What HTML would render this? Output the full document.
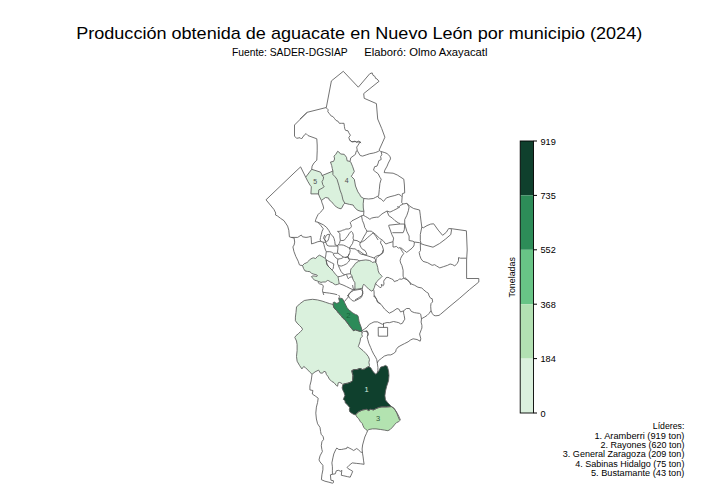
<!DOCTYPE html>
<html><head><meta charset="utf-8"><style>
html,body{margin:0;padding:0;background:#fff;}
body{width:720px;height:504px;overflow:hidden;}
svg{display:block;font-family:"Liberation Sans",sans-serif;}
</style></head><body>
<svg width="720" height="504" viewBox="0 0 720 504">
<rect width="720" height="504" fill="#fff"/>
<text x="76.2" y="38.7" font-size="16.4" textLength="566" lengthAdjust="spacingAndGlyphs" fill="#000">Producción obtenida de aguacate en Nuevo León por municipio (2024)</text>
<text x="231.9" y="55.6" font-size="10.3" textLength="115.8" lengthAdjust="spacingAndGlyphs" fill="#000">Fuente: SADER-DGSIAP</text>
<text x="364.3" y="55.6" font-size="10.3" textLength="123.2" lengthAdjust="spacingAndGlyphs" fill="#000">Elaboró: Olmo Axayacatl</text>
<g fill="none" stroke="#5a5a5a" stroke-width="0.85" stroke-linejoin="round">
<polygon points="311.7,169.3 320.4,172.1 321.6,174.0 322.0,175.6 323.6,176.8 323.2,179.6 322.0,181.6 322.8,184.8 324.2,186.7 322.0,188.3 318.8,189.9 318.4,193.9 310.9,193.9 311.3,186.7 310.1,185.2 307.7,181.2 305.7,177.2" fill="#daf1dd" stroke="none"/>
<polygon points="337.6,151.3 338.8,151.9 340.6,154.0 344.2,154.3 346.5,157.3 347.1,160.8 350.1,161.4 350.7,162.0 352.5,166.2 354.3,171.5 352.5,174.5 351.3,176.3 354.3,179.3 355.5,186.0 357.9,191.9 359.6,194.3 360.8,196.7 363.8,198.5 363.2,203.8 363.3,208.0 363.9,211.3 360.9,211.3 358.0,210.4 355.6,208.6 353.8,206.2 353.1,205.0 349.5,204.4 344.8,203.2 343.0,200.0 341.8,194.8 340.0,190.0 338.8,185.2 337.0,179.3 335.2,176.9 332.9,174.5 332.9,171.0 332.3,168.6 331.7,165.6 330.5,162.0 333.5,161.4 334.6,159.0 334.0,156.1 335.8,154.3" fill="#daf1dd" stroke="none"/>
<polygon points="322.0,175.6 330.5,172.1 332.9,171.0 332.9,174.5 335.2,176.9 337.0,179.3 338.8,185.2 340.0,190.0 341.8,194.8 343.0,200.0 344.8,203.2 343.5,204.6 342.3,207.0 341.1,208.8 338.7,208.2 336.3,207.0 333.9,204.6 331.5,201.7 329.2,199.9 328.6,198.1 325.6,197.5 323.8,198.7 321.4,200.5 319.6,196.9 318.4,193.9 318.8,189.9 322.0,188.3 324.2,186.7 322.8,184.8 322.0,181.6 323.2,179.6 323.6,176.8" fill="#daf1dd" stroke="none"/>
<polygon points="358.9,260.9 361.9,260.4 365.8,259.9 369.3,260.4 371.3,261.4 372.3,262.4 374.8,261.9 375.8,262.4 376.7,263.9 377.7,267.4 378.2,270.8 379.2,273.3 381.2,275.3 382.2,276.3 380.7,277.8 378.7,279.8 376.7,281.7 375.3,284.2 374.3,287.7 373.3,289.7 371.8,291.2 368.8,289.2 366.3,286.7 363.8,284.2 362.9,285.7 362.4,288.2 359.9,288.7 356.9,289.2 354.9,289.2 354.9,285.7 354.9,282.7 353.4,280.3 352.4,277.8 351.9,275.8 350.5,273.8 350.5,270.8 351.0,268.8 352.4,267.4 354.4,264.9 355.4,263.4 356.9,262.4 358.4,261.4" fill="#daf1dd" stroke="none"/>
<polygon points="302.5,265.5 304.5,263.5 306.4,263.0 307.4,262.0 309.5,260.0 311.0,258.8 313.2,257.8 315.6,258.5 317.5,256.4 319.5,255.2 321.9,256.4 324.7,258.0 325.3,258.2 326.1,259.8 326.5,262.1 326.9,264.1 328.1,266.1 329.7,267.7 331.7,269.7 333.3,271.3 334.4,272.9 336.0,274.8 338.0,276.8 338.4,278.8 338.8,281.2 339.2,283.6 337.6,284.4 335.6,284.8 334.0,284.0 332.5,282.8 330.5,282.0 328.9,280.8 327.7,280.4 325.3,282.0 322.9,282.0 321.0,282.4 318.8,281.6 316.9,280.8 314.4,280.1 312.9,278.4 311.4,276.6 312.9,275.9 314.9,276.1 316.9,276.4 317.4,275.4 315.9,274.6 313.9,274.2 311.7,273.4 309.9,271.7 307.4,271.4 305.0,270.9 303.5,268.4" fill="#daf1dd" stroke="none"/>
<polygon points="326.1,259.8 329.1,261.5 331.5,262.7 333.8,263.9 333.5,266.3 333.2,268.7 332.3,269.5 331.7,269.7 329.7,267.7 328.1,266.1 326.9,264.1 326.5,262.1" fill="#fff" stroke="none"/>
<polygon points="296.5,307.0 299.5,304.0 304.3,300.5 307.9,299.9 312.6,299.3 317.4,299.9 322.1,301.1 325.7,302.3 329.3,303.5 333.2,304.5 333.6,307.0 334.8,308.9 336.7,310.5 337.5,311.7 338.7,313.3 341.1,315.6 342.7,318.0 344.7,319.6 346.7,322.0 349.0,325.2 351.4,328.3 353.4,330.7 355.4,329.9 357.8,330.7 360.6,331.5 361.3,331.9 362.4,332.1 361.8,334.5 362.4,336.3 360.6,338.1 360.0,341.7 358.8,345.2 358.2,346.4 360.0,348.2 363.0,350.6 366.0,353.6 368.3,356.5 369.5,359.5 368.9,362.5 369.5,365.5 368.9,366.5 366.5,367.7 364.8,368.9 362.4,369.5 360.0,368.3 357.0,369.5 354.0,369.5 351.7,370.7 352.9,375.5 352.5,380.8 350.9,382.0 347.7,383.2 345.3,383.6 342.9,384.4 342.1,383.6 339.8,382.4 338.2,382.8 337.6,386.2 336.4,385.6 334.0,382.6 331.7,381.4 329.3,379.0 328.1,376.7 326.3,374.3 325.7,371.9 323.9,371.3 322.7,373.1 320.4,373.1 318.6,370.1 315.0,371.9 312.0,374.3 310.2,372.5 307.9,370.1 305.5,367.7 303.7,366.5 301.9,368.9 299.5,365.4 297.1,361.2 296.5,356.4 297.1,350.5 297.1,344.5 296.5,341.0 294.8,337.4 296.0,335.6 298.3,333.8 300.7,331.4 302.5,329.6 301.9,327.9 299.5,325.5 297.1,323.1 295.4,320.7 295.4,317.1 296.0,312.4" fill="#daf1dd" stroke="none"/>
<polygon points="333.2,302.5 334.4,302.1 336.3,303.3 338.3,302.9 339.5,301.3 338.7,298.6 340.3,298.2 342.3,298.6 343.9,301.0 344.7,302.9 345.9,305.3 347.1,307.7 349.0,310.1 351.4,311.7 352.6,312.9 355.4,314.4 357.4,315.2 358.2,316.4 358.6,318.8 359.0,321.2 359.8,323.6 361.0,326.7 361.7,329.1 362.1,330.7 361.3,331.9 360.6,331.5 357.8,330.7 355.4,329.9 353.4,330.7 351.4,328.3 349.0,325.2 346.7,322.0 344.7,319.6 342.7,318.0 341.1,315.6 338.7,313.3 337.5,311.7 336.7,310.5 334.8,308.9 333.6,307.0 333.2,304.5" fill="#2c8b59" stroke="none"/>
<polygon points="351.7,370.7 354.0,369.5 357.0,369.5 360.0,368.3 362.4,369.5 364.8,368.9 366.5,367.7 368.9,366.5 370.7,367.7 372.5,370.7 374.3,373.1 376.0,374.3 377.1,373.1 378.9,370.7 380.7,367.1 383.1,366.5 385.5,365.4 387.3,366.5 388.5,370.7 389.0,375.5 388.5,380.8 386.7,386.2 385.5,391.0 384.9,395.7 385.5,399.9 387.9,402.9 390.2,405.2 391.4,406.6 386.7,406.9 381.9,406.9 378.9,407.5 376.0,408.7 373.6,409.9 370.6,409.3 368.8,410.5 366.4,409.3 362.9,409.9 361.2,410.6 358.8,411.7 356.8,413.3 355.6,414.9 354.0,414.5 351.7,413.3 349.7,411.7 349.3,409.4 349.7,407.4 348.5,406.2 346.9,404.2 345.3,403.0 344.9,400.6 343.3,399.4 343.7,398.3 344.9,395.5 344.1,392.7 342.9,390.3 342.1,387.9 342.9,384.4 345.3,383.6 347.7,383.2 350.9,382.0 352.5,380.8 352.9,375.5" fill="#0f402d" stroke="none"/>
<polygon points="355.6,414.9 356.8,413.3 358.8,411.7 361.2,410.6 362.9,409.9 366.4,409.3 368.8,410.5 370.6,409.3 373.6,409.9 376.0,408.7 378.9,407.5 381.9,406.9 386.7,406.9 391.4,406.6 393.8,408.1 395.0,409.9 396.8,412.9 398.0,416.4 399.8,420.6 398.6,421.8 396.8,422.4 395.0,424.2 392.6,427.1 390.2,429.5 387.9,430.7 384.3,430.1 380.7,429.5 376.0,428.9 372.4,428.9 368.8,429.5 367.6,430.7 365.8,429.5 364.0,427.7 362.9,425.4 362.3,423.6 360.5,421.8 358.7,418.8 356.9,417.0 356.3,415.8" fill="#b3e3b0" stroke="none"/>
<polyline points="300.0,119.0 307.2,112.3 326.3,107.5 331.4,80.9 343.3,71.3 358.3,87.2 369.8,73.7 372.2,72.9 373.0,75.3 374.9,76.4 375.7,78.5 376.9,78.8 379.0,81.3 363.7,93.6 364.2,98.3 376.4,103.6 377.7,119.0 381.7,128.5 384.9,137.2 381.4,145.0 379.0,150.3"/>
<polyline points="307.2,112.3 294.5,125.0 294.5,136.1 296.6,138.3 300.1,137.7 301.4,139.0 304.5,134.8 306.1,133.6 308.0,135.6 316.8,138.8 317.2,145.0 317.2,150.9 316.8,160.2 314.0,162.9 312.1,166.1 311.7,169.3 305.7,177.2 300.6,166.9 295.0,172.1 266.0,199.8 273.9,209.4 275.7,213.0 275.5,215.0"/>
<polyline points="326.3,107.5 326.2,107.8 328.2,109.8 327.8,111.7 329.4,113.7 331.3,116.1 332.9,116.5 334.5,118.5 336.1,120.5 338.1,121.3 339.3,123.3 341.7,123.3 344.0,123.3 344.4,126.4 344.8,128.8 345.6,130.4 348.0,130.8 348.8,132.8 350.4,135.2 348.8,137.5 349.6,139.9 351.2,141.5 352.8,141.9 355.2,141.5 356.7,142.3 358.3,141.1 360.3,142.3 361.1,143.1"/>
<polyline points="337.6,151.3 335.8,154.3 334.0,156.1 334.6,159.0 333.5,161.4 330.5,162.0 331.7,165.6 332.3,168.6 332.9,171.0 332.9,174.5 335.2,176.9 337.0,179.3 338.8,185.2 340.0,190.0 341.8,194.8 343.0,200.0 344.8,203.2"/>
<polyline points="337.6,151.3 338.8,151.9 340.6,154.0 344.2,154.3 346.5,157.3 347.1,160.8 350.1,161.4 350.7,162.0 352.5,166.2 354.3,171.5 352.5,174.5 351.3,176.3 354.3,179.3 355.5,186.0 357.9,191.9 359.6,194.3 360.8,196.7 363.8,198.5 363.2,203.8 363.3,208.0 363.9,211.3 363.6,215.4"/>
<polyline points="344.8,203.2 349.5,204.4 353.1,205.0 353.8,206.2 355.6,208.6 358.0,210.4 360.9,211.3 363.9,211.3"/>
<polyline points="311.7,169.3 320.4,172.1 321.6,174.0 322.0,175.6 323.6,176.8 323.2,179.6 322.0,181.6 322.8,184.8 324.2,186.7 322.0,188.3 318.8,189.9 318.4,193.9"/>
<polyline points="305.7,177.2 307.7,181.2 310.1,185.2 311.3,186.7 310.9,193.9"/>
<polyline points="322.0,175.6 330.5,172.1 332.9,171.0"/>
<polyline points="350.1,161.4 350.7,157.9 355.5,154.3 356.1,151.3 357.3,150.7 356.7,147.1 357.9,145.4 360.0,142.1 361.0,142.5"/>
<polyline points="349.5,140.0 351.9,141.8 354.9,141.2 356.9,142.1 360.2,141.8"/>
<polyline points="357.3,150.7 360.2,155.5 362.6,156.1 366.2,154.9 369.8,153.7 373.3,153.1 375.8,152.4 378.8,151.2"/>
<polyline points="379.0,150.3 380.6,151.4 384.8,152.6 387.1,153.6 390.1,156.5 390.5,158.9 388.3,163.1 387.1,166.1 384.8,170.2 384.2,172.6 393.1,173.2 397.3,175.0 403.8,179.2 404.4,185.0"/>
<polyline points="381.2,151.8 381.8,154.8 380.6,156.5 381.2,159.5 378.8,160.7 378.2,163.1 377.0,166.1 374.6,166.7 373.5,170.2 375.8,172.0 378.2,173.8 380.0,177.4 381.2,179.2 380.6,181.0 379.9,183.6 379.3,189.5 378.7,195.5 377.9,196.1"/>
<polyline points="363.8,198.5 368.6,199.0 373.3,198.5 375.7,197.3 377.9,196.1 378.7,197.9 381.1,199.0 383.5,201.4 386.4,197.9 390.0,196.7 394.8,195.5 398.3,194.3 400.0,194.9"/>
<polyline points="363.6,215.4 361.5,215.8 358.0,217.8 355.0,219.3 352.0,220.8 350.2,222.7 351.0,224.7 351.4,226.7 350.2,228.3 348.3,229.0 345.9,229.0 344.3,229.8 342.7,230.2 341.1,231.0 339.1,231.4 337.5,231.4"/>
<polyline points="361.5,215.8 362.4,220.5 363.9,224.0 364.8,227.6 366.0,229.4 366.9,231.2 369.3,231.2 371.6,231.2 373.4,233.0 374.6,234.8 375.7,236.0 378.1,240.0"/>
<polyline points="363.6,215.4 365.7,216.6 367.8,217.8 369.9,219.3 371.6,218.1 374.0,217.5 376.4,217.2 378.2,217.2 380.0,215.7 382.0,213.9 384.0,212.7 387.0,211.0 390.0,212.1 393.6,210.4 397.1,208.6 400.0,206.8"/>
<polyline points="387.0,211.0 388.8,215.7 392.4,218.1 394.8,220.5 398.3,222.9 400.0,223.5"/>
<polyline points="275.5,215.0 277.5,216.0 280.5,218.3 284.0,220.7 287.6,226.1 288.8,230.2 289.4,236.8 291.2,237.4 294.1,238.0 294.7,242.1 294.1,245.0"/>
<polyline points="291.2,237.4 297.7,237.4 301.3,235.0 302.5,236.8 306.0,237.4 308.2,237.1 311.0,236.3"/>
<polyline points="310.9,193.9 318.5,193.9"/>
<polyline points="318.4,193.9 319.6,196.9 321.4,200.5 323.8,198.7 325.6,197.5 328.6,198.1 329.2,199.9 331.5,201.7 333.9,204.6 336.3,207.0 338.7,208.2 341.1,208.8 342.3,207.0 343.5,204.6 344.8,203.2"/>
<polyline points="321.4,200.5 322.0,202.9 322.9,205.0 323.7,208.2 322.1,210.6 319.7,212.9 318.1,214.5 316.9,216.9 315.7,219.7 315.3,221.7 317.7,222.1 320.9,225.6 323.3,228.8 322.1,231.2 321.3,234.4 320.5,237.5 320.1,239.9 320.9,241.5"/>
<polyline points="317.7,222.1 323.3,224.8 326.4,227.2 328.8,230.4 330.0,232.8 331.2,234.8 332.8,236.0 334.0,238.3 334.8,241.5 335.2,245.0 337.9,245.6"/>
<polyline points="324.8,238.3 326.4,235.2 328.0,234.4 329.6,234.4 328.8,238.3 328.0,240.7 326.4,241.5 324.8,239.9 324.8,238.3"/>
<polyline points="404.4,185.0 404.7,192.9 402.4,193.6 401.7,202.5 403.2,204.0 406.9,203.3 409.9,206.3 413.6,208.5 419.6,210.0 420.3,215.2 421.0,221.1 421.8,227.1 423.3,227.8 427.0,225.6 430.7,224.1 433.7,223.8 438.2,230.1 442.6,235.3 446.3,232.3 448.6,228.6 450.8,228.6 466.4,230.8 467.2,250.0"/>
<polyline points="400.0,194.9 401.7,196.5"/>
<polyline points="406.9,203.3 409.1,207.0 408.4,210.7 406.9,215.2 404.7,219.6 404.7,224.1 405.4,226.3 406.9,231.5 409.1,236.0 409.1,240.5 412.9,241.2 414.3,242.0 414.2,244.5 413.8,246.0"/>
<polyline points="397.0,206.8 398.7,207.0 400.2,205.5 403.2,204.0"/>
<polyline points="400.0,224.0 404.7,224.1"/>
<polyline points="404.7,224.1 404.3,229.8 403.1,232.7 392.4,232.7"/>
<polyline points="421.8,227.1 420.3,234.5 420.3,240.5 421.0,243.5"/>
<polyline points="420.3,243.5 424.8,245.0 433.0,247.2 439.6,243.5 445.6,239.0 450.8,234.5 451.5,230.0 450.8,228.6"/>
<polyline points="414.3,242.0 419.6,242.7 421.0,243.5"/>
<polyline points="325.9,242.5 327.1,245.3 329.0,246.1 332.2,246.1 335.4,246.1 337.9,246.0"/>
<polyline points="360.2,242.5 357.0,240.6 353.8,240.2 353.0,238.2 353.4,235.4 352.6,232.6 351.4,231.4 350.2,232.2 349.0,233.8 347.5,236.2 345.5,238.6 344.3,240.2 341.9,240.6 340.3,240.2"/>
<polyline points="340.3,240.2 339.9,237.0 339.9,233.8 338.7,232.2 337.5,231.4"/>
<polyline points="340.3,240.2 339.5,243.3 337.9,244.9"/>
<polyline points="360.2,242.5 359.8,244.9 361.0,247.3 362.5,249.3 364.9,250.4 366.1,252.4 366.9,254.4"/>
<polyline points="353.4,240.2 352.6,243.3 351.0,245.7 349.4,248.0 348.3,247.6 346.3,246.4 343.5,245.2 341.9,244.9 337.9,244.9"/>
<polyline points="349.4,248.0 353.0,248.8 355.0,248.8 356.6,250.0 358.2,251.2 359.4,253.2 361.7,254.4 364.9,254.8 366.9,254.8"/>
<polyline points="349.4,248.0 350.2,250.4 349.8,252.4 348.7,255.2 347.5,256.7 348.3,258.3 349.4,259.9"/>
<polyline points="337.9,246.0 337.9,248.8 337.5,252.0 337.9,253.2 340.3,254.8 341.9,256.0 343.5,257.1 345.9,257.5 347.5,256.7"/>
<polyline points="326.3,251.7 329.8,251.7 331.4,252.1 333.4,253.3 335.8,253.3 337.9,253.2"/>
<polyline points="333.2,254.0 334.4,256.3 336.0,257.9 337.9,259.1 340.3,258.7 341.9,258.3 343.5,257.1"/>
<polyline points="337.9,259.1 337.5,262.0 337.6,263.7 338.4,265.5 341.2,266.1 343.6,265.3 346.7,263.7 348.3,262.1 349.9,259.8"/>
<polyline points="338.4,265.5 339.6,268.5 341.2,271.7 343.2,274.0 344.8,274.8"/>
<polyline points="348.3,258.3 349.8,259.1 353.8,259.5 357.8,259.9 359.4,261.1"/>
<polyline points="366.9,231.2 365.7,233.8 364.1,236.2 362.5,239.4 361.3,241.7 360.2,242.5"/>
<polyline points="375.3,283.7 377.7,285.6 379.7,287.2 380.9,287.6 381.7,286.4 381.3,284.4 383.3,285.6 384.0,284.0 383.7,281.3 384.4,279.7 385.2,279.3 386.0,277.7 388.0,277.3 389.6,278.1 391.6,278.9 393.2,279.7 394.4,281.7 396.0,280.9 397.9,280.5 399.5,278.9 401.5,279.3 403.9,278.1 404.3,278.6"/>
<polyline points="373.7,289.6 374.1,292.0 374.1,296.7 375.7,297.5 376.9,299.9 377.3,301.9 378.9,302.3 380.1,303.9"/>
<polyline points="354.9,289.2 352.9,289.7 351.0,291.7 349.0,293.7 348.0,296.6"/>
<polyline points="362.4,288.2 362.4,289.7 362.9,293.7 361.9,295.6 358.9,297.6 355.0,300.0"/>
<polyline points="345.0,257.4 348.0,256.9 349.0,258.9"/>
<polyline points="348.0,256.9 349.0,254.0"/>
<polyline points="357.9,250.0 364.8,255.0 370.8,256.9 373.8,257.9 375.3,259.4 375.8,262.4"/>
<polyline points="373.8,257.9 376.7,256.0 379.7,255.0 382.2,253.0 383.2,250.0"/>
<polyline points="338.0,276.8 340.4,276.4 342.8,275.6 344.8,274.8 346.0,274.3 349.0,273.8 350.5,273.8"/>
<polyline points="346.5,274.5 347.5,277.2 348.3,278.8 349.9,277.2 351.5,276.8 352.4,277.8"/>
<polyline points="400.0,224.0 388.8,225.2 388.8,226.2 390.6,231.0 391.8,234.5 393.6,238.1 393.0,241.7 388.8,242.9 385.8,244.0 382.9,240.5 379.3,238.1 375.7,234.5 373.3,232.7 369.8,235.7 367.3,237.8 364.9,240.2 362.5,241.7 360.2,242.5"/>
<polyline points="393.0,241.7 393.0,247.0 394.2,247.0 396.5,246.4 398.3,248.2 400.1,247.6 400.7,248.8 402.5,251.8 403.7,253.6 401.9,256.0 400.7,258.3 400.1,260.7 400.7,263.1 401.9,265.5 403.1,270.2 403.1,276.2 404.3,278.6 407.3,279.8 409.6,282.1 411.0,285.0"/>
<polyline points="381.1,240.5 380.5,242.9 382.3,245.8 383.5,250.0 382.9,253.0 380.5,254.8 378.1,256.5 376.3,258.3 375.8,262.4"/>
<polyline points="413.8,246.0 412.0,248.2 409.0,250.6 406.7,252.4 404.3,250.6 400.7,247.6"/>
<polyline points="420.3,243.5 420.5,250.5 419.2,252.4 419.8,255.6 421.1,258.9 423.1,261.4 427.6,262.7 432.1,265.3 434.7,264.7 436.6,266.0 439.8,267.9 443.7,266.6 447.6,265.3 450.1,264.0 452.7,264.7 454.7,266.0 457.2,263.4 458.5,260.8 458.5,257.6 460.5,258.2 463.0,258.2 466.3,258.2"/>
<polyline points="467.2,250.0 466.6,260.0 466.6,278.5 478.8,278.5 478.8,282.0 469.3,289.8 459.8,298.1 449.0,307.0 442.0,313.0 440.6,314.2 439.0,315.4 435.8,315.8 433.8,315.4 432.2,313.4 431.0,310.6 429.1,313.4 427.1,315.4 424.7,317.0 422.3,318.2 421.5,319.0 421.1,322.1 421.9,325.3 421.9,328.0 421.4,329.3 419.6,334.0 420.8,338.8 420.2,341.2 417.0,339.5 413.1,338.8 410.5,340.0 408.1,341.8 404.5,343.6 401.0,345.4 398.0,347.1 396.2,349.5 395.6,351.9 393.2,353.7 390.8,354.9 387.9,354.9 384.3,356.1 381.3,358.5 378.3,360.8 377.3,363.1"/>
<polyline points="405.0,277.6 408.9,281.4 411.4,284.0 414.7,285.3 417.9,287.2 421.8,288.0 423.9,290.0 426.3,292.0 428.3,293.2 429.1,295.9 430.7,298.3 432.2,298.7 432.6,301.9 431.0,303.5 430.7,306.3 431.0,310.6"/>
<polyline points="311.0,236.3 311.3,239.9 311.5,243.9 314.8,242.9 317.9,241.7 320.3,241.3 323.1,242.1 323.9,244.5 324.7,247.7 325.5,250.1 326.3,251.7 325.9,254.8 325.5,257.2 325.1,258.0"/>
<polyline points="323.1,242.1 325.9,242.5 324.7,239.8 323.5,238.2 324.7,235.0"/>
<polyline points="318.6,281.6 318.2,282.8 319.8,284.0 322.1,284.4 323.3,286.0 322.9,288.3 322.5,290.7 322.9,292.3 323.8,295.0"/>
<polyline points="322.9,292.3 326.1,292.7 329.3,293.1 334.0,293.9 337.2,294.7"/>
<polyline points="339.2,283.6 343.0,285.0 346.7,286.7 349.9,288.3 352.9,289.7"/>
<polyline points="294.1,245.0 292.9,246.9 294.0,251.7 295.8,256.4 298.2,261.2 299.4,264.8 300.0,265.2 302.5,265.5"/>
<polyline points="338.7,295.0 339.5,296.6 338.7,298.6"/>
<polyline points="347.5,295.0 348.7,296.6 349.8,298.2 351.4,299.8 353.0,301.0 354.6,301.0 357.0,299.8 359.4,298.6 361.3,297.4 362.1,295.8 362.7,291.5 361.0,289.2 357.4,289.8 353.8,290.4 350.8,292.1 347.9,295.7 348.7,296.6"/>
<polyline points="348.7,296.6 346.5,299.0 344.5,301.5"/>
<polyline points="352.6,285.0 353.2,288.6 355.0,289.8"/>
<polyline points="374.1,296.7 374.6,295.7 376.5,299.5 378.0,302.5 381.0,304.3 384.5,309.0 389.3,313.2 392.9,311.4 397.0,308.5 398.8,309.0 400.6,312.0 403.6,310.8 406.5,308.5 409.5,308.5 411.3,311.4 414.3,312.6 416.8,313.0 419.5,313.4 420.7,314.2 421.5,319.0"/>
<polyline points="362.1,330.7 364.5,329.0 366.9,327.3 369.3,324.3 371.7,323.1 374.0,321.9 377.6,321.9 380.0,323.1 382.4,324.3 384.8,323.1 387.1,322.5 389.3,322.7 393.5,321.5 396.4,322.1 398.8,322.7 400.6,323.9 402.4,323.3 403.6,321.0 404.8,319.2 404.2,315.6 403.6,313.2 403.6,310.8"/>
<polyline points="378.2,327.4 387.6,327.4 387.6,336.2 378.3,336.2 378.2,327.4"/>
<polyline points="383.5,322.9 383.5,327.4"/>
<polyline points="362.1,330.7 363.6,331.5 367.1,331.0 368.3,334.5 367.1,336.9 367.7,339.3 368.9,343.5 370.7,347.6 371.9,350.6 373.7,354.2 375.5,357.1 376.7,359.5 377.3,363.1 377.9,367.3 377.9,370.8 377.1,373.1"/>
<polyline points="367.1,331.0 365.7,331.4 368.1,332.6 367.5,336.2"/>
<polyline points="312.0,374.3 311.7,377.0 311.1,381.0 309.9,385.7 309.9,389.9 312.9,390.5 312.3,394.0 315.8,396.4 318.2,398.2 317.6,402.4 316.4,407.1 315.8,413.1 316.4,419.0 317.6,423.8 320.0,427.4 320.6,431.5 321.2,434.5"/>
<polyline points="321.2,434.5 323.1,436.3 323.7,439.3 321.9,441.7 321.3,445.8 321.9,449.5 322.4,451.4 320.0,455.9 319.0,459.9 320.0,461.9 322.9,465.3 322.9,469.8 321.9,474.8 321.4,479.7 324.9,481.2 328.9,482.2 332.4,483.2 333.4,482.7 333.4,480.7 330.9,480.2 330.4,474.8 332.4,474.3 335.3,473.8 336.3,470.8 338.3,470.3 340.8,471.3 341.8,470.3 341.3,475.3 343.8,475.8 347.7,476.7 350.2,477.2 351.7,473.8 352.7,471.3 350.2,469.8 347.7,468.3 347.2,467.3 349.2,465.3 352.2,462.9 356.7,463.4 360.6,463.8 364.1,464.3 363.6,460.9 363.1,456.9 362.6,453.9 362.1,449.0 362.6,445.0 364.8,437.0 366.5,433.3 367.6,430.7"/>
<polyline points="332.4,474.3 332.4,470.8 332.4,466.8 331.9,462.9 332.9,457.9 333.8,453.9 335.8,449.5 336.8,448.0 338.8,449.5 341.3,449.5 343.8,449.0 346.7,448.5 347.2,447.0 349.2,448.0 351.2,449.0 353.7,450.5 356.7,448.5 358.7,450.0 360.6,451.9 362.3,452.6"/>
<polyline points="391.4,406.6 393.8,408.2 395.6,410.6 397.4,413.6 399.2,417.1 400.4,420.0"/>
<polyline points="358.9,260.9 361.9,260.4 365.8,259.9 369.3,260.4 371.3,261.4 372.3,262.4 374.8,261.9 375.8,262.4 376.7,263.9 377.7,267.4 378.2,270.8 379.2,273.3 381.2,275.3 382.2,276.3 380.7,277.8 378.7,279.8 376.7,281.7 375.3,284.2 374.3,287.7 373.3,289.7 371.8,291.2 368.8,289.2 366.3,286.7 363.8,284.2 362.9,285.7 362.4,288.2 359.9,288.7 356.9,289.2 354.9,289.2 354.9,285.7 354.9,282.7 353.4,280.3 352.4,277.8 351.9,275.8 350.5,273.8 350.5,270.8 351.0,268.8 352.4,267.4 354.4,264.9 355.4,263.4 356.9,262.4 358.4,261.4 358.9,260.9"/>
<polyline points="302.5,265.5 304.5,263.5 306.4,263.0 307.4,262.0 309.5,260.0 311.0,258.8 313.2,257.8 315.6,258.5 317.5,256.4 319.5,255.2 321.9,256.4 324.7,258.0 325.3,258.2 326.1,259.8 326.5,262.1 326.9,264.1 328.1,266.1 329.7,267.7 331.7,269.7 333.3,271.3 334.4,272.9 336.0,274.8 338.0,276.8 338.4,278.8 338.8,281.2 339.2,283.6 337.6,284.4 335.6,284.8 334.0,284.0 332.5,282.8 330.5,282.0 328.9,280.8 327.7,280.4 325.3,282.0 322.9,282.0 321.0,282.4 318.8,281.6 316.9,280.8 314.4,280.1 312.9,278.4 311.4,276.6 312.9,275.9 314.9,276.1 316.9,276.4 317.4,275.4 315.9,274.6 313.9,274.2 311.7,273.4 309.9,271.7 307.4,271.4 305.0,270.9 303.5,268.4 302.5,265.5"/>
<polyline points="326.1,259.8 329.1,261.5 331.5,262.7 333.8,263.9 333.5,266.3 333.2,268.7 332.3,269.5 331.7,269.7 329.7,267.7 328.1,266.1 326.9,264.1 326.5,262.1 326.1,259.8"/>
<polyline points="296.5,307.0 299.5,304.0 304.3,300.5 307.9,299.9 312.6,299.3 317.4,299.9 322.1,301.1 325.7,302.3 329.3,303.5 333.2,304.5 333.6,307.0 334.8,308.9 336.7,310.5 337.5,311.7 338.7,313.3 341.1,315.6 342.7,318.0 344.7,319.6 346.7,322.0 349.0,325.2 351.4,328.3 353.4,330.7 355.4,329.9 357.8,330.7 360.6,331.5 361.3,331.9 362.4,332.1 361.8,334.5 362.4,336.3 360.6,338.1 360.0,341.7 358.8,345.2 358.2,346.4 360.0,348.2 363.0,350.6 366.0,353.6 368.3,356.5 369.5,359.5 368.9,362.5 369.5,365.5 368.9,366.5 366.5,367.7 364.8,368.9 362.4,369.5 360.0,368.3 357.0,369.5 354.0,369.5 351.7,370.7 352.9,375.5 352.5,380.8 350.9,382.0 347.7,383.2 345.3,383.6 342.9,384.4 342.1,383.6 339.8,382.4 338.2,382.8 337.6,386.2 336.4,385.6 334.0,382.6 331.7,381.4 329.3,379.0 328.1,376.7 326.3,374.3 325.7,371.9 323.9,371.3 322.7,373.1 320.4,373.1 318.6,370.1 315.0,371.9 312.0,374.3 310.2,372.5 307.9,370.1 305.5,367.7 303.7,366.5 301.9,368.9 299.5,365.4 297.1,361.2 296.5,356.4 297.1,350.5 297.1,344.5 296.5,341.0 294.8,337.4 296.0,335.6 298.3,333.8 300.7,331.4 302.5,329.6 301.9,327.9 299.5,325.5 297.1,323.1 295.4,320.7 295.4,317.1 296.0,312.4 296.5,307.0"/>
<polyline points="333.2,302.5 334.4,302.1 336.3,303.3 338.3,302.9 339.5,301.3 338.7,298.6 340.3,298.2 342.3,298.6 343.9,301.0 344.7,302.9 345.9,305.3 347.1,307.7 349.0,310.1 351.4,311.7 352.6,312.9 355.4,314.4 357.4,315.2 358.2,316.4 358.6,318.8 359.0,321.2 359.8,323.6 361.0,326.7 361.7,329.1 362.1,330.7 361.3,331.9 360.6,331.5 357.8,330.7 355.4,329.9 353.4,330.7 351.4,328.3 349.0,325.2 346.7,322.0 344.7,319.6 342.7,318.0 341.1,315.6 338.7,313.3 337.5,311.7 336.7,310.5 334.8,308.9 333.6,307.0 333.2,304.5 333.2,302.5"/>
<polyline points="351.7,370.7 354.0,369.5 357.0,369.5 360.0,368.3 362.4,369.5 364.8,368.9 366.5,367.7 368.9,366.5 370.7,367.7 372.5,370.7 374.3,373.1 376.0,374.3 377.1,373.1 378.9,370.7 380.7,367.1 383.1,366.5 385.5,365.4 387.3,366.5 388.5,370.7 389.0,375.5 388.5,380.8 386.7,386.2 385.5,391.0 384.9,395.7 385.5,399.9 387.9,402.9 390.2,405.2 391.4,406.6 386.7,406.9 381.9,406.9 378.9,407.5 376.0,408.7 373.6,409.9 370.6,409.3 368.8,410.5 366.4,409.3 362.9,409.9 361.2,410.6 358.8,411.7 356.8,413.3 355.6,414.9 354.0,414.5 351.7,413.3 349.7,411.7 349.3,409.4 349.7,407.4 348.5,406.2 346.9,404.2 345.3,403.0 344.9,400.6 343.3,399.4 343.7,398.3 344.9,395.5 344.1,392.7 342.9,390.3 342.1,387.9 342.9,384.4 345.3,383.6 347.7,383.2 350.9,382.0 352.5,380.8 352.9,375.5 351.7,370.7"/>
<polyline points="355.6,414.9 356.8,413.3 358.8,411.7 361.2,410.6 362.9,409.9 366.4,409.3 368.8,410.5 370.6,409.3 373.6,409.9 376.0,408.7 378.9,407.5 381.9,406.9 386.7,406.9 391.4,406.6 393.8,408.1 395.0,409.9 396.8,412.9 398.0,416.4 399.8,420.6 398.6,421.8 396.8,422.4 395.0,424.2 392.6,427.1 390.2,429.5 387.9,430.7 384.3,430.1 380.7,429.5 376.0,428.9 372.4,428.9 368.8,429.5 367.6,430.7 365.8,429.5 364.0,427.7 362.9,425.4 362.3,423.6 360.5,421.8 358.7,418.8 356.9,417.0 356.3,415.8 355.6,414.9"/>
</g>
<g font-size="7.5" text-anchor="middle">
<text x="366.6" y="392" fill="#dcefe2">1</text>
<text x="348.4" y="317.8" fill="#0f5a30" opacity="0.8">2</text>
<text x="378.1" y="420.8" fill="#2f5a3c">3</text>
<text x="346.7" y="183.1" fill="#505050" font-size="7">4</text>
<text x="315.2" y="183.7" fill="#505050" font-size="7">5</text>
</g>
<!-- colorbar -->
<g>
<rect x="520.2" y="141" width="13.3" height="54.4" fill="#0f402d"/>
<rect x="520.2" y="195.4" width="13.3" height="54.4" fill="#2d8c58"/>
<rect x="520.2" y="249.8" width="13.3" height="54.4" fill="#68c486"/>
<rect x="520.2" y="304.2" width="13.3" height="54.4" fill="#b2e0b2"/>
<rect x="520.2" y="358.6" width="13.3" height="54.4" fill="#daf0dd"/>
<rect x="520.2" y="141" width="13.3" height="272" fill="none" stroke="#000" stroke-width="0.9"/>
<g stroke="#000" stroke-width="1">
<line x1="533.5" y1="141" x2="537" y2="141"/>
<line x1="533.5" y1="195.4" x2="537" y2="195.4"/>
<line x1="533.5" y1="249.8" x2="537" y2="249.8"/>
<line x1="533.5" y1="304.2" x2="537" y2="304.2"/>
<line x1="533.5" y1="358.6" x2="537" y2="358.6"/>
<line x1="533.5" y1="413" x2="537" y2="413"/>
</g>
<g font-size="9.9" fill="#000">
<text x="540.5" y="144.6" textLength="15.3" lengthAdjust="spacingAndGlyphs">919</text>
<text x="540.5" y="199.0" textLength="15.3" lengthAdjust="spacingAndGlyphs">735</text>
<text x="540.5" y="253.4" textLength="15.3" lengthAdjust="spacingAndGlyphs">552</text>
<text x="540.5" y="307.8" textLength="15.3" lengthAdjust="spacingAndGlyphs">368</text>
<text x="540.5" y="362.2" textLength="15.3" lengthAdjust="spacingAndGlyphs">184</text>
<text x="540.5" y="416.6" textLength="5.1" lengthAdjust="spacingAndGlyphs">0</text>
<text transform="translate(514.9,277.3) rotate(-90)" font-size="8.6" text-anchor="middle" textLength="40.5" lengthAdjust="spacingAndGlyphs">Toneladas</text>
</g>
</g>
<g font-size="8.4" fill="#000" text-anchor="end">
<text x="684.4" y="429" textLength="31.6" lengthAdjust="spacingAndGlyphs">Líderes:</text>
<text x="684.4" y="438.5" textLength="90.0" lengthAdjust="spacingAndGlyphs">1. Aramberri (919 ton)</text>
<text x="684.4" y="448" textLength="84.0" lengthAdjust="spacingAndGlyphs">2. Rayones (620 ton)</text>
<text x="684.4" y="457.4" textLength="121.6" lengthAdjust="spacingAndGlyphs">3. General Zaragoza (209 ton)</text>
<text x="684.4" y="466.8" textLength="109.2" lengthAdjust="spacingAndGlyphs">4. Sabinas Hidalgo (75 ton)</text>
<text x="684.4" y="476.4" textLength="93.4" lengthAdjust="spacingAndGlyphs">5. Bustamante (43 ton)</text>
</g>
</svg>
</body></html>
